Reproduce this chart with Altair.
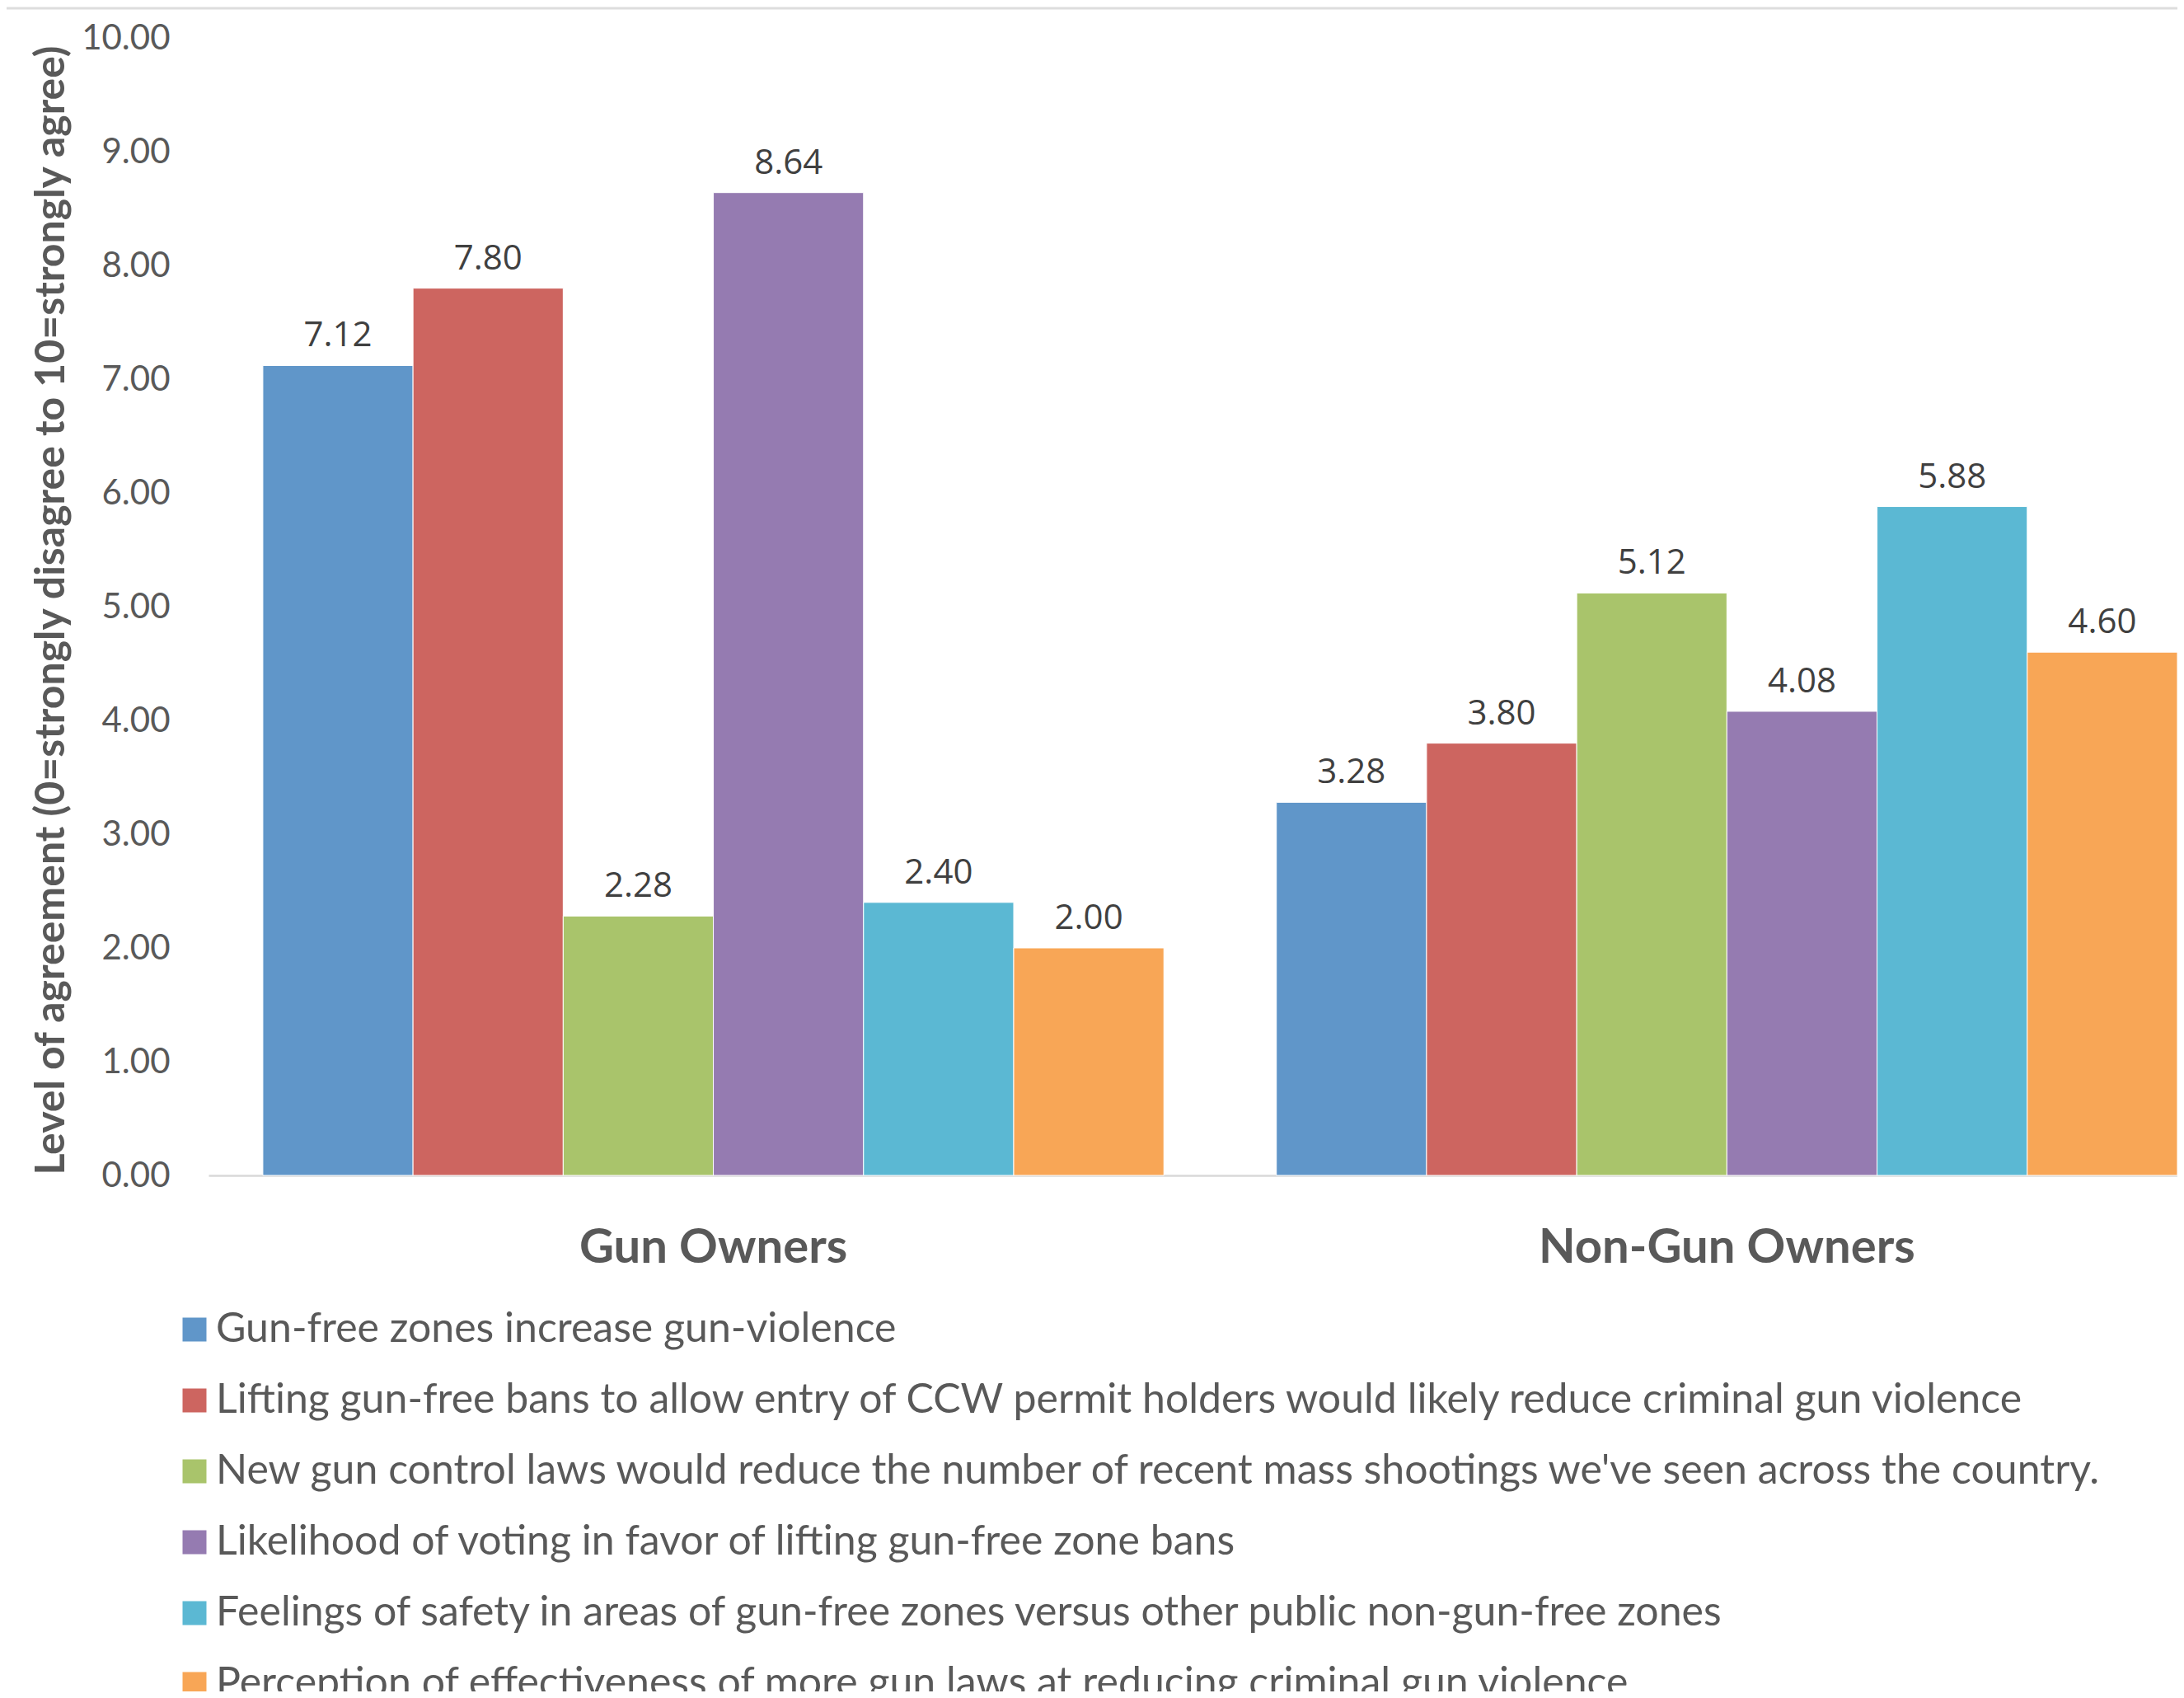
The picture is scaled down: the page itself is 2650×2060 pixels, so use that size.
import altair as alt
import pandas as pd

groups = ["Gun Owners", "Non-Gun Owners"]
series = [
    "Gun-free zones increase gun-violence",
    "Lifting gun-free bans to allow entry of CCW permit holders would likely reduce criminal gun violence",
    "New gun control laws would reduce the number of recent mass shootings we've seen across the country.",
    "Likelihood of voting in favor of lifting gun-free zone bans",
    "Feelings of safety in areas of gun-free zones versus other public non-gun-free zones",
    "Perception of effectiveness of more gun laws at reducing criminal gun violence",
]
gun_owners = [7.12, 7.80, 2.28, 8.64, 2.40, 2.00]
non_gun_owners = [3.28, 3.80, 5.12, 4.08, 5.88, 4.60]
colors = ["#6096C9", "#CD6560", "#A9C46B", "#957BB1", "#5BB8D3", "#F8A656"]
y_ticks = [0, 1, 2, 3, 4, 5, 6, 7, 8, 9, 10]
y_title = "Level of agreement (0=strongly disagree to 10=strongly agree)"

rows = []
for g, vals in zip(groups, [gun_owners, non_gun_owners]):
    for s, v in zip(series, vals):
        rows.append({"group": g, "series": s, "value": v})
df = pd.DataFrame(rows)

W = 2389
H = 1380
TEXT = "#595959"

x_enc = alt.X(
    "group:N",
    sort=groups,
    title=None,
    scale=alt.Scale(paddingInner=0.111, paddingOuter=0.0268, align=1),
    axis=alt.Axis(
        labelAngle=0,
        labelFont="Lato",
        labelFontWeight="bold",
        labelFontSize=58,
        labelColor=TEXT,
        labelPadding=59,
        labelLimit=2000,
        ticks=False,
        grid=False,
        domain=True,
        domainColor="#D9D9D9",
        domainWidth=2.5,
    ),
)
xo_enc = alt.XOffset("series:N", sort=series, scale=alt.Scale(paddingInner=0, paddingOuter=0))
y_enc = alt.Y(
    "value:Q",
    scale=alt.Scale(domain=[0, 10], nice=False),
    axis=alt.Axis(
        values=y_ticks,
        format=".2f",
        title=y_title,
        titleFont="Lato",
        titleFontWeight="bold",
        titleFontSize=50,
        titleColor=TEXT,
        titleAngle=270,
        titleAlign="center",
        titleBaseline="middle",
        titleX=-191,
        titleY=694,
        titleLimit=3000,
        labelFont="Lato",
        labelFontSize=42,
        labelColor=TEXT,
        labelPadding=47,
        domain=False,
        ticks=False,
        grid=False,
    ),
)
color_enc = alt.Color(
    "series:N",
    sort=series,
    scale=alt.Scale(domain=series, range=colors),
    legend=alt.Legend(
        title=None,
        orient="none",
        legendX=-42,
        legendY=1542,
        direction="vertical",
        columns=1,
        symbolType="square",
        symbolSize=841,
        symbolStrokeWidth=0,
        symbolOpacity=1,
        labelFont="Lato",
        labelFontSize=50,
        labelColor=TEXT,
        labelLimit=3000,
        labelOffset=1,
        rowPadding=36,
    ),
)

bars = alt.Chart(df).mark_bar(stroke="white", strokeWidth=1).encode(
    x=x_enc, xOffset=xo_enc, y=y_enc, color=color_enc
)
labels = alt.Chart(df).mark_text(
    font="Open Sans", fontSize=42, color="#404040", baseline="alphabetic", dy=-23
).encode(
    x=x_enc, xOffset=xo_enc, y=y_enc, text=alt.Text("value:Q", format=".2f")
)
top_line = alt.Chart(pd.DataFrame({"a": [0]})).mark_rule(color="#DDDDDD", strokeWidth=3).encode(
    x=alt.value(-245), x2=alt.value(W), y=alt.value(-36)
)

chart = (
    alt.layer(bars, labels, top_line)
    .properties(
        width=W,
        height=H,
        autosize=alt.AutoSizeParams(type="none"),
        padding={"left": 245, "top": 38, "right": 0, "bottom": 626},
        view=alt.ViewBackground(stroke="transparent", strokeWidth=0, fill="transparent"),
    )
    .configure_view(stroke="transparent", strokeWidth=0)
    .configure(background="white")
)

chart.save("out.html", embed_options={"renderer": "svg", "actions": False})
